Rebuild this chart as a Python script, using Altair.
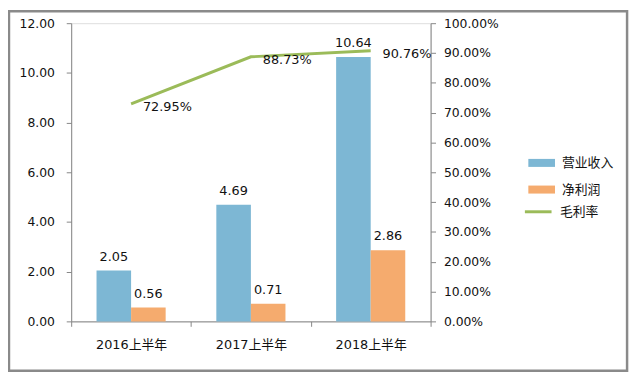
import altair as alt
import pandas as pd

categories = ["2016上半年", "2017上半年", "2018上半年"]
revenue = [2.05, 4.69, 10.64]
profit = [0.56, 0.71, 2.86]
margin = [0.7295, 0.8873, 0.9076]
bar_series = ["营业收入", "净利润"]
line_series = ["毛利率"]
bar_colors = ["#7DB7D4", "#F5AB6E"]
line_color = "#9BBB59"

rows = []
for c, r, p in zip(categories, revenue, profit):
    rows.append({"period": c, "series": "营业收入", "value": r})
    rows.append({"period": c, "series": "净利润", "value": p})
bar_df = pd.DataFrame(rows)
line_df = pd.DataFrame({"period": categories, "name": line_series * 3, "margin": margin})

FONT = "DejaVu Sans, Noto Sans CJK SC"
AX = "#868686"

x_enc = alt.X(
    "period:N", sort=categories, title=None,
    scale=alt.Scale(paddingInner=0, paddingOuter=0),
    axis=alt.Axis(labelAngle=0, tickBand="extent", tickSize=5, labelPadding=12,
                  labelFont=FONT, labelFontSize=13, labelColor="#111",
                  domainColor=AX, tickColor=AX, grid=False),
)
xo_enc = alt.XOffset("series:N", sort=bar_series,
                     scale=alt.Scale(paddingOuter=0.733, paddingInner=0))

left_axis = alt.Axis(format=".2f", values=[0, 2, 4, 6, 8, 10, 12], tickSize=5, labelPadding=12,
                     labelFont=FONT, labelFontSize=12.5, labelColor="#111",
                     domainColor=AX, tickColor=AX, grid=False, title=None)
right_axis = alt.Axis(format=".2%", values=[i / 10 for i in range(11)], orient="right",
                      tickSize=5, labelPadding=8, labelFont=FONT, labelFontSize=12.5,
                      labelColor="#111", domainColor=AX, tickColor=AX, grid=False, title=None)

y_left = alt.Y("value:Q", scale=alt.Scale(domain=[0, 12], nice=False), axis=left_axis)
y_right = alt.Y("margin:Q", scale=alt.Scale(domain=[0, 1], nice=False), axis=right_axis)

bars = alt.Chart(bar_df).mark_bar().encode(
    x=x_enc, xOffset=xo_enc, y=y_left,
    color=alt.Color("series:N", sort=bar_series,
                    scale=alt.Scale(domain=bar_series, range=bar_colors),
                    legend=alt.Legend(title=None, orient="none", legendX=463, legendY=128,
                                      symbolType="M-1,-0.3H1V0.3H-1Z", symbolSize=729,
                                      symbolStrokeWidth=0, rowPadding=6, labelOffset=7,
                                      labelFont=FONT, labelFontSize=13, labelColor="#111")),
)
bar_labels = alt.Chart(bar_df).mark_text(baseline="bottom", dy=-7, font=FONT, fontSize=13,
                                         color="#111").encode(
    x=x_enc, xOffset=xo_enc, y=y_left, detail="series:N",
    text=alt.Text("value:Q", format=".2f"),
)

line = alt.Chart(line_df).mark_line(strokeWidth=3).encode(
    x=x_enc, y=y_right,
    stroke=alt.Stroke("name:N", scale=alt.Scale(domain=line_series, range=[line_color]),
                      legend=alt.Legend(title=None, orient="none", legendX=458, legendY=176,
                                        symbolType="stroke", symbolSize=729,
                                        symbolStrokeWidth=3, labelOffset=7,
                                        labelFont=FONT, labelFontSize=13, labelColor="#111")),
)
line_labels = alt.Chart(line_df).mark_text(align="left", baseline="middle", dx=12, dy=3,
                                           font=FONT, fontSize=13, color="#111").encode(
    x=x_enc, y=y_right, text=alt.Text("margin:Q", format=".2%"),
)

frame = alt.Chart(pd.DataFrame({"a": [0]})).mark_rect(fillOpacity=0, stroke="#8A8A8A",
                                                       strokeWidth=2.5).encode(
    x=alt.value(-63), x2=alt.value(563), y=alt.value(-12), y2=alt.value(352))

main = alt.layer(
    alt.layer(bars, bar_labels),
    alt.layer(line, line_labels),
).resolve_scale(y="independent", color="independent")

chart = alt.layer(main, frame).properties(
    width=364, height=302,
    autosize=alt.AutoSizeParams(type="none"),
    padding={"left": 64, "top": 13, "right": 205, "bottom": 58},
).configure_view(stroke=None).configure(background="white")

chart.save("out.html", embed_options={"renderer": "svg", "actions": False})
